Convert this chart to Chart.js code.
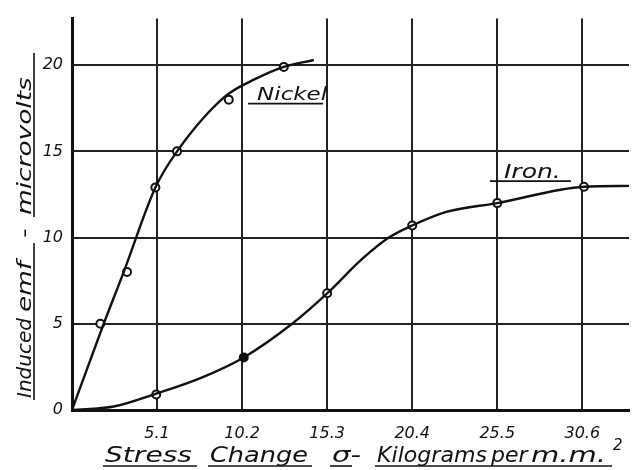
<!DOCTYPE html>
<html>
<head>
<meta charset="utf-8">
<script src="https://cdn.jsdelivr.net/npm/chart.js@4.4.1/dist/chart.umd.min.js"></script>
<style>
  body { margin: 0; background: #fff; }
  #wrap { width: 635px; height: 470px; }
</style>
</head>
<body>
<div id="wrap"><canvas id="myChart"></canvas></div>
<script>
// stress change (kg per mm2) vs induced emf (microvolts)
const nickelCurveX = [0, 1.9, 3.1, 5.0, 6.3, 9.2, 11.0, 12.7, 14.5];
const nickelCurveY = [0, 5.0, 8.0, 12.9, 15.0, 18.2, 19.2, 19.9, 20.3];
const nickelPointX = [1.7, 3.3, 5.0, 6.3, 9.4, 12.7];
const nickelPointY = [5.0, 8.0, 12.9, 15.0, 18.0, 19.9];

const ironCurveX = [0, 2.5, 5.05, 7.7, 10.3, 13.2, 15.3, 17.4, 19.0, 20.4, 22.5, 25.5, 30.7, 33.4];
const ironCurveY = [0, 0.2, 0.95, 1.85, 3.05, 5.0, 6.76, 8.76, 10.0, 10.7, 11.5, 12.0, 12.95, 13.0];
const ironPointX = [5.05, 10.3, 15.3, 20.4, 25.5, 30.7];
const ironPointY = [0.9, 3.05, 6.77, 10.7, 12.0, 12.95];

const xTicks = [5.1, 10.2, 15.3, 20.4, 25.5, 30.6];
const yTicks = [0, 5, 10, 15, 20];

const ink = "#111";
const handFont = "'DejaVu Sans'";

function pairs(xs, ys) {
  return xs.map((x, i) => ({ x: x, y: ys[i] }));
}

// widen a word a little toward the room the hand lettering takes
function word(ctx, text, x0, x1, base) {
  const w = ctx.measureText(text).width;
  const sx = Math.min(1.32, Math.max(1.0, (x1 - x0) / w));
  ctx.save();
  ctx.translate(x0, base);
  ctx.scale(sx, 1);
  ctx.fillText(text, 0, 0);
  ctx.restore();
}

function underline(ctx, x0, x1, yy) {
  ctx.beginPath();
  ctx.moveTo(x0, yy);
  ctx.lineTo(x1, yy);
  ctx.stroke();
}

const lettering = {
  id: "lettering",
  afterDraw(chart) {
    const ctx = chart.ctx;
    const xs = chart.scales.x;
    const ys = chart.scales.y;
    ctx.save();
    ctx.fillStyle = ink;
    ctx.strokeStyle = ink;
    ctx.lineWidth = 1.6;
    ctx.textBaseline = "alphabetic";

    // curve names
    ctx.font = "italic 18px " + handFont;
    let px = xs.getPixelForValue(11.1), py = ys.getPixelForValue(18.0);
    word(ctx, "Nickel", px, px + 70, py);
    underline(ctx, px - 9, px + 66, py + 4);
    ctx.font = "italic 19px " + handFont;
    px = xs.getPixelForValue(25.9); py = ys.getPixelForValue(13.45);
    word(ctx, "Iron.", px, px + 62, py);
    underline(ctx, px - 14, px + 67, py + 3);

    // x axis title
    ctx.font = "italic 22px " + handFont;
    const b = 462;
    word(ctx, "Stress", 105, 192, b);
    underline(ctx, 103, 197, b + 4);
    word(ctx, "Change", 210, 308, b);
    underline(ctx, 208, 312, b + 4);
    word(ctx, "σ-", 332, 364, b);
    underline(ctx, 330, 352, b + 4);
    word(ctx, "Kilograms", 377, 487, b);
    underline(ctx, 375, 489, b + 4);
    word(ctx, "per", 491, 527, b);
    word(ctx, "m.m.", 531, 608, b);
    underline(ctx, 489, 612, b + 4);
    ctx.font = "italic 15px " + handFont;
    ctx.fillText("2", 613, 450);

    // y axis title, reading bottom to top
    ctx.font = "italic 20px " + handFont;
    ctx.translate(31, 0);
    ctx.rotate(-Math.PI / 2);
    word(ctx, "Induced", -398, -318, 0);
    word(ctx, "emf", -312, -261, 0);
    word(ctx, "-", -238, -228, 0);
    word(ctx, "microvolts", -215, -63, 0);
    underline(ctx, -400, -243, 3);
    underline(ctx, -217, -53, 3);
    ctx.restore();
  }
};

const tickFont = { family: handFont, style: "italic", size: 16 };

const ctx = document.getElementById("myChart").getContext("2d");
const myChart = new Chart(ctx, {
  type: "line",
  data: {
    datasets: [
      {
        label: "Nickel",
        data: pairs(nickelCurveX, nickelCurveY),
        borderColor: ink,
        borderWidth: 2.4,
        cubicInterpolationMode: "monotone",
        pointRadius: 0,
        fill: false
      },
      {
        label: "Iron",
        data: pairs(ironCurveX, ironCurveY),
        borderColor: ink,
        borderWidth: 2.4,
        cubicInterpolationMode: "monotone",
        pointRadius: 0,
        fill: false
      },
      {
        label: "Nickel readings",
        data: pairs(nickelPointX, nickelPointY),
        showLine: false,
        pointRadius: 4,
        pointBorderWidth: 2,
        pointBorderColor: ink,
        pointBackgroundColor: "#fff"
      },
      {
        label: "Iron readings",
        data: pairs(ironPointX, ironPointY),
        showLine: false,
        pointRadius: 4,
        pointBorderWidth: 2,
        pointBorderColor: ink,
        pointBackgroundColor: (c) => (c.dataIndex === 1 ? ink : "#fff")
      }
    ]
  },
  options: {
    responsive: true,
    maintainAspectRatio: false,
    animation: false,
    layout: { padding: { top: 12, right: 3, left: 0, bottom: 0 } },
    plugins: {
      legend: { display: false },
      tooltip: { enabled: false }
    },
    scales: {
      x: {
        type: "linear",
        min: 0,
        max: 33.4,
        afterBuildTicks: (scale) => { scale.ticks = xTicks.map((v) => ({ value: v })); },
        afterFit: (scale) => { scale.height = 60; },
        ticks: {
          color: ink,
          font: tickFont,
          padding: 14,
          maxRotation: 0,
          callback: (v) => v.toFixed(1)
        },
        grid: { color: "#222", lineWidth: 2, drawTicks: false },
        border: { color: ink, width: 3 }
      },
      y: {
        min: 0,
        max: 22.7,
        afterBuildTicks: (scale) => { scale.ticks = yTicks.map((v) => ({ value: v })); },
        afterFit: (scale) => { scale.width = 72; },
        ticks: {
          color: ink,
          font: tickFont,
          padding: 9,
          callback: (v) => String(v)
        },
        grid: { color: "#222", lineWidth: 2, drawTicks: false },
        border: { color: ink, width: 3 }
      }
    }
  },
  plugins: [lettering]
});
</script>
</body>
</html>
